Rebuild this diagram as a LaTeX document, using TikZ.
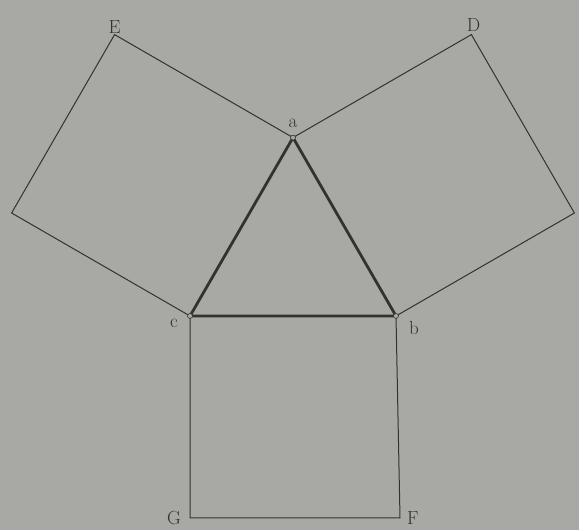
\documentclass[tikz,border=0pt]{standalone}
\usepackage{tikz}
\usetikzlibrary{calc,positioning}
\definecolor{photogray}{RGB}{168,169,164}
\definecolor{inkgray}{RGB}{50,50,48}
\begin{document}
\begin{tikzpicture}[x=1pt,y=1pt,
        side/.style={draw=inkgray, line width=1pt}, % 正方形边
        tri/.style={draw=inkgray, line width=2.8pt, line join=round}, % 三角形边
        vdot/.style={circle, draw=inkgray, fill=photogray, inner sep=0pt, minimum size=5pt, line width=0.6pt},
        lbl/.style={text=inkgray, font=\fontsize{19}{21}\selectfont, inner sep=1pt}
    ]
    % 背景
    \fill[photogray] (0,0) rectangle (579,530);
    \useasboundingbox (0,0) rectangle (579,530);

    % 三角形顶点
    \coordinate (c) at (190,214);
    \coordinate (b) at (396,214);
    \coordinate (a) at (293,392.4);

    % 正方形外顶点
    \coordinate (D) at ($(a)+(178.4,103)$);
    \coordinate (Dr) at ($(b)+(178.4,103)$);
    \coordinate (E) at ($(a)+(-178.4,103)$);
    \coordinate (El) at ($(c)+(-178.4,103)$);
    \coordinate (G) at ($(c)+(0,-202)$);
    \coordinate (F) at ($(b)+(4,-202)$);

    % 三个正方形
    \draw[side] (a) -- (D) -- (Dr) -- (b);
    \draw[side] (a) -- (E) -- (El) -- (c);
    \draw[side] (c) -- (G) -- (F) -- (b);

    % 等边三角形
    \draw[tri] (a) -- (b) -- (c) -- cycle;

    % 顶点小圆
    \node[vdot] (na) at (a) {};
    \node[vdot] (nb) at (b) {};
    \node[vdot] (nc) at (c) {};

    % 标注
    \node[lbl, above=6pt of na] (la) {a};
    \node[lbl, below right=2pt and 10pt of nb] (lb) {b};
    \node[lbl, below left=0pt and 9pt of nc] (lc) {c};
    \node[lbl, above=0pt of E] (lE) {E};
    \node[lbl, above left=2pt and -10pt of D] (lD) {D};
    \node[lbl, left=8pt of G] (lG) {G};
    \node[lbl, right=6pt of F] (lF) {F};
\end{tikzpicture}
\end{document}
